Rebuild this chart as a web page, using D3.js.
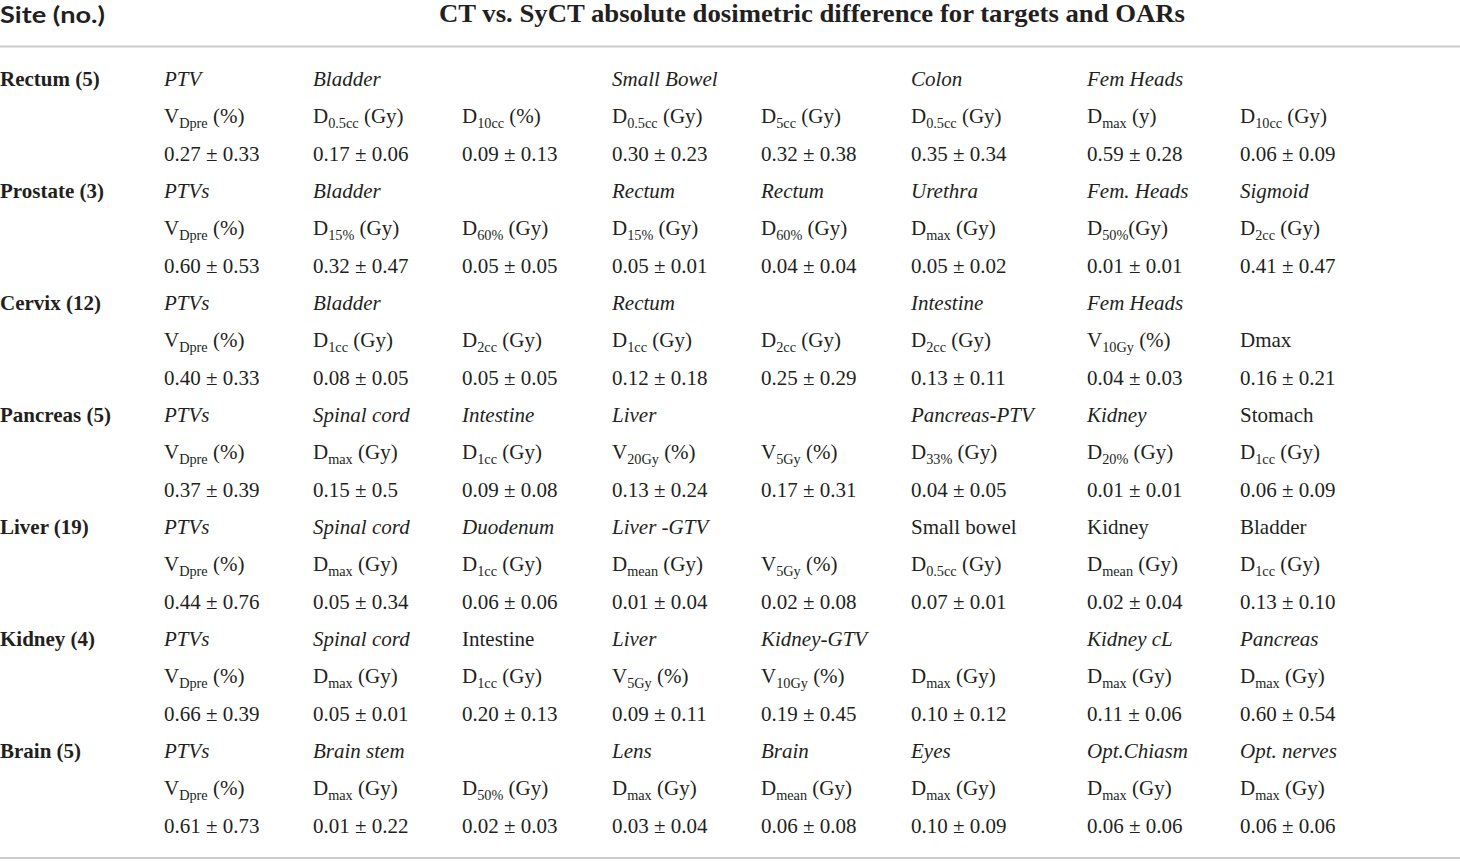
<!DOCTYPE html>
<html>
<head>
<meta charset="utf-8">
<script src="https://cdn.jsdelivr.net/npm/d3@7"></script>
<style>
  html, body { margin: 0; padding: 0; background: #fff; }
  svg { display: block; }
</style>
</head>
<body>
<svg id="chart" width="1460" height="861"></svg>
<script>
// ---------------- DATA ----------------
const headerSite = "Site (no.)";
const headerTitle = "CT vs. SyCT absolute dosimetric difference for targets and OARs";

const sites = ["Rectum (5)", "Prostate (3)", "Cervix (12)", "Pancreas (5)", "Liver (19)", "Kidney (4)", "Brain (5)"];

// organ names per site ("=" prefix = upright, otherwise italic; "" = empty cell)
const organs = [
  ["PTV", "Bladder", "", "Small Bowel", "", "Colon", "Fem Heads", ""],
  ["PTVs", "Bladder", "", "Rectum", "Rectum", "Urethra", "Fem. Heads", "Sigmoid"],
  ["PTVs", "Bladder", "", "Rectum", "", "Intestine", "Fem Heads", ""],
  ["PTVs", "Spinal cord", "Intestine", "Liver", "", "Pancreas-PTV", "Kidney", "=Stomach"],
  ["PTVs", "Spinal cord", "Duodenum", "Liver -GTV", "", "=Small bowel", "=Kidney", "=Bladder"],
  ["PTVs", "Spinal cord", "=Intestine", "Liver", "Kidney-GTV", "", "Kidney cL", "Pancreas"],
  ["PTVs", "Brain stem", "", "Lens", "Brain", "Eyes", "Opt.Chiasm", "Opt. nerves"]
];

// metrics: "Main|subscript|rest"
const metrics = [
  ["V|Dpre| (%)", "D|0.5cc| (Gy)", "D|10cc| (%)", "D|0.5cc| (Gy)", "D|5cc| (Gy)", "D|0.5cc| (Gy)", "D|max| (y)", "D|10cc| (Gy)"],
  ["V|Dpre| (%)", "D|15%| (Gy)", "D|60%| (Gy)", "D|15%| (Gy)", "D|60%| (Gy)", "D|max| (Gy)", "D|50%|(Gy)", "D|2cc| (Gy)"],
  ["V|Dpre| (%)", "D|1cc| (Gy)", "D|2cc| (Gy)", "D|1cc| (Gy)", "D|2cc| (Gy)", "D|2cc| (Gy)", "V|10Gy| (%)", "Dmax"],
  ["V|Dpre| (%)", "D|max| (Gy)", "D|1cc| (Gy)", "V|20Gy| (%)", "V|5Gy| (%)", "D|33%| (Gy)", "D|20%| (Gy)", "D|1cc| (Gy)"],
  ["V|Dpre| (%)", "D|max| (Gy)", "D|1cc| (Gy)", "D|mean| (Gy)", "V|5Gy| (%)", "D|0.5cc| (Gy)", "D|mean| (Gy)", "D|1cc| (Gy)"],
  ["V|Dpre| (%)", "D|max| (Gy)", "D|1cc| (Gy)", "V|5Gy| (%)", "V|10Gy| (%)", "D|max| (Gy)", "D|max| (Gy)", "D|max| (Gy)"],
  ["V|Dpre| (%)", "D|max| (Gy)", "D|50%| (Gy)", "D|max| (Gy)", "D|mean| (Gy)", "D|max| (Gy)", "D|max| (Gy)", "D|max| (Gy)"]
];

const means = [
  ["0.27", "0.17", "0.09", "0.30", "0.32", "0.35", "0.59", "0.06"],
  ["0.60", "0.32", "0.05", "0.05", "0.04", "0.05", "0.01", "0.41"],
  ["0.40", "0.08", "0.05", "0.12", "0.25", "0.13", "0.04", "0.16"],
  ["0.37", "0.15", "0.09", "0.13", "0.17", "0.04", "0.01", "0.06"],
  ["0.44", "0.05", "0.06", "0.01", "0.02", "0.07", "0.02", "0.13"],
  ["0.66", "0.05", "0.20", "0.09", "0.19", "0.10", "0.11", "0.60"],
  ["0.61", "0.01", "0.02", "0.03", "0.06", "0.10", "0.06", "0.06"]
];
const sds = [
  ["0.33", "0.06", "0.13", "0.23", "0.38", "0.34", "0.28", "0.09"],
  ["0.53", "0.47", "0.05", "0.01", "0.04", "0.02", "0.01", "0.47"],
  ["0.33", "0.05", "0.05", "0.18", "0.29", "0.11", "0.03", "0.21"],
  ["0.39", "0.5", "0.08", "0.24", "0.31", "0.05", "0.01", "0.09"],
  ["0.76", "0.34", "0.06", "0.04", "0.08", "0.01", "0.04", "0.10"],
  ["0.39", "0.01", "0.13", "0.11", "0.45", "0.12", "0.06", "0.54"],
  ["0.73", "0.22", "0.03", "0.04", "0.08", "0.09", "0.06", "0.06"]
];

// ---------------- LAYOUT ----------------
const W = 1460, H = 861;
const svg = d3.select("#chart");
const textColor = "#231f20";
const serif = "'Liberation Serif', 'Times New Roman', serif";
const fs = 21;

const colIdx = d3.range(8);
const x = d3.scaleOrdinal().domain(colIdx).range([164, 313, 462, 612, 761, 911, 1087, 1240]);
const y = d3.scaleLinear().domain([0, 1]).range([86, 86 + 37.33]); // row index -> baseline

// header
svg.append("text")
  .attr("x", 0).attr("y", 23)
  .attr("font-family", "Lato, 'Open Sans', sans-serif")
  .attr("font-weight", "bold")
  .attr("font-size", 22.5)
  .attr("textLength", 105)
  .attr("lengthAdjust", "spacingAndGlyphs")
  .attr("fill", textColor)
  .text(headerSite);

svg.append("text")
  .attr("x", 439).attr("y", 22)
  .attr("font-family", serif)
  .attr("font-weight", "bold")
  .attr("font-size", 24.5)
  .attr("textLength", 746)
  .attr("lengthAdjust", "spacingAndGlyphs")
  .attr("fill", textColor)
  .text(headerTitle);

// rules
svg.append("line").attr("x1", 0).attr("x2", W).attr("y1", 46.5).attr("y2", 46.5)
  .attr("stroke", "#cccccc").attr("stroke-width", 1.8);
svg.append("line").attr("x1", 0).attr("x2", W).attr("y1", 858).attr("y2", 858)
  .attr("stroke", "#cccccc").attr("stroke-width", 2);

// body groups
const groups = svg.selectAll("g.site").data(sites).join("g").attr("class", "site");

groups.append("text")
  .attr("x", 0)
  .attr("y", (d, i) => y(i * 3))
  .attr("font-family", serif)
  .attr("font-weight", "bold")
  .attr("font-size", fs)
  .attr("fill", textColor)
  .text(d => d);

groups.each(function (site, si) {
  const g = d3.select(this);
  // organ row
  g.selectAll("text.organ").data(organs[si]).join("text")
    .attr("class", "organ")
    .attr("x", (d, ci) => x(ci))
    .attr("y", y(si * 3))
    .attr("font-family", serif)
    .attr("font-size", fs)
    .attr("font-style", d => d.startsWith("=") ? "normal" : "italic")
    .attr("fill", textColor)
    .text(d => d.replace(/^=/, ""));

  // metric row
  g.selectAll("text.metric").data(metrics[si]).join("text")
    .attr("class", "metric")
    .attr("x", (d, ci) => x(ci))
    .attr("y", y(si * 3 + 1))
    .attr("font-family", serif)
    .attr("font-size", fs)
    .attr("fill", textColor)
    .each(function (d) {
      const t = d3.select(this);
      const parts = d.split("|");
      if (parts.length === 1) { t.text(d); return; }
      t.append("tspan").text(parts[0]);
      t.append("tspan").attr("font-size", fs * 0.68).attr("dy", 4.5).text(parts[1]);
      t.append("tspan").attr("dy", -4.5).text(parts[2]);
    });

  // value row
  g.selectAll("text.value").data(means[si].map((m, ci) => m + " ± " + sds[si][ci])).join("text")
    .attr("class", "value")
    .attr("x", (d, ci) => x(ci))
    .attr("y", y(si * 3 + 2))
    .attr("font-family", serif)
    .attr("font-size", fs)
    .attr("fill", textColor)
    .text(d => d);
});
</script>
</body>
</html>
